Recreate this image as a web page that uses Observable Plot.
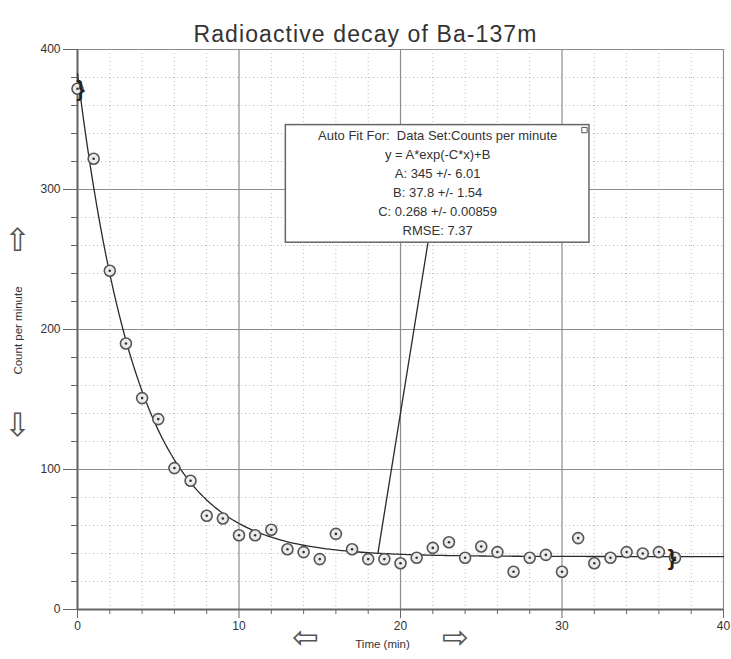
<!DOCTYPE html>
<html>
<head>
<meta charset="utf-8">
<script src="https://cdn.jsdelivr.net/npm/d3@7"></script>
<script src="https://cdn.jsdelivr.net/npm/@observablehq/plot@0.6"></script>
<style>
  html, body { margin: 0; padding: 0; background: white; }
</style>
</head>
<body>
<div id="chart"></div>
<script>
// ---- data ----
const times  = [0,1,2,3,4,5,6,7,8,9,10,11,12,13,14,15,16,17,18,19,20,21,22,23,24,25,26,27,28,29,30,31,32,33,34,35,36,37];
const counts = [372,322,242,190,151,136,101,92,67,65,53,53,57,43,41,36,54,43,36,36,33,37,44,48,37,45,41,27,37,39,27,51,33,37,41,40,41,37];

// Auto-fit parameters printed in the chart
const fitA = 345, fitB = 37.8, fitC = 0.268;
const boxLines = [
  "Auto Fit For:  Data Set:Counts per minute",
  "y = A*exp(-C*x)+B",
  "A: 345 +/- 6.01",
  "B: 37.8 +/- 1.54",
  "C: 0.268 +/- 0.00859",
  "RMSE: 7.37"
];

const xMajor = [0, 10, 20, 30, 40];
const xMinor = [2,4,6,8,12,14,16,18,22,24,26,28,32,34,36,38];
const yMajor = [0, 100, 200, 300, 400];
const yMinor = [20,40,60,80,120,140,160,180,220,240,260,280,320,340,360,380];

const title = "Radioactive decay of Ba-137m";
const xLabel = "Time (min)";
const yLabel = "Count per minute";

// ---- derived tables ----
const points = times.map((t, i) => ({t, c: counts[i]}));
const fit = x => fitA * Math.exp(-fitC * x) + fitB;
const curve = d3.range(0, 40.001, 0.2).map(x => ({x, y: fit(x)}));
const box = {x1: 12.9, x2: 31.7, y1: 262, y2: 346};
const leader = [{x1: 21.7, y1: box.y1, x2: 18.6, y2: fit(18.6)}];

const gridMajor = "#8c8c8c";
const ink = "#333";
const arrowStyle = {fontSize: 32, fontFamily: "DejaVu Sans", fill: "#555", textAnchor: "middle"};

const chart = Plot.plot({
  width: 731,
  height: 659,
  marginLeft: 77,
  marginRight: 8,
  marginTop: 49,
  marginBottom: 50,
  x: {domain: [0, 40]},
  y: {domain: [0, 400]},
  style: {fontFamily: "Liberation Sans, Arial, sans-serif", fontSize: "12px", color: ink, background: "white"},
  marks: [
    // minor dotted grid
    Plot.ruleX(xMinor, {stroke: "#888", strokeOpacity: 0.6, strokeDasharray: "1,3"}),
    Plot.ruleY(yMinor, {stroke: "#888", strokeOpacity: 0.6, strokeDasharray: "1,3"}),
    // major grid
    Plot.ruleX(xMajor, {stroke: gridMajor, strokeWidth: 1.2}),
    Plot.ruleY(yMajor, {stroke: gridMajor, strokeWidth: 1.2}),
    // axis lines
    Plot.ruleY([0], {stroke: "#666", strokeWidth: 2}),
    Plot.ruleX([0], {stroke: "#666", strokeWidth: 2}),
    // axes
    Plot.axisX({ticks: xMajor, tickSize: 9, tickPadding: 3, stroke: "#666", fill: ink, fontSize: 12}),
    Plot.axisX({ticks: xMinor, tickSize: 5, tickFormat: () => "", stroke: "#666"}),
    Plot.axisY({ticks: yMajor, tickSize: 14, tickPadding: 3, stroke: "#666", fill: ink, fontSize: 12}),
    Plot.axisY({ticks: yMinor, tickSize: 6, tickFormat: () => "", stroke: "#666"}),
    // fit curve
    Plot.line(curve, {x: "x", y: "y", stroke: "#2a2a2a", strokeWidth: 1.3}),
    // leader line from the annotation box to the curve
    Plot.link(leader, {x1: "x1", y1: "y1", x2: "x2", y2: "y2", stroke: "#2a2a2a", strokeWidth: 1.3}),
    // data points: ring with a centre dot
    Plot.dot(points, {x: "t", y: "c", r: 5.5, fill: "#ececec", stroke: "#555", strokeWidth: 1.6}),
    Plot.dot(points, {x: "t", y: "c", r: 1.3, fill: "#333", stroke: "none"}),
    // selection brackets
    Plot.text([points[0]], {x: "t", y: "c", text: () => "}", dx: 3, fontSize: 22, fontWeight: "bold", fill: "#222"}),
    Plot.text([points[points.length - 1]], {x: "t", y: "c", text: () => "}", dx: -3, fontSize: 22, fontWeight: "bold", fill: "#222"}),
    // annotation box
    Plot.rect([box], {x1: "x1", x2: "x2", y1: "y1", y2: "y2", fill: "white", stroke: "#666", strokeWidth: 1.5}),
    Plot.dot([box], {x: "x2", y: "y2", symbol: "square", r: 3, dx: -5, dy: 5, fill: "white", stroke: "#555", strokeWidth: 1}),
    Plot.text([boxLines.join("\n")], {x: (box.x1 + box.x2) / 2, y: box.y2, lineAnchor: "top", dy: 2, lineHeight: 1.45, fontSize: 13, fill: "#333"}),
    // title and axis labels
    Plot.text([title], {frameAnchor: "top", dx: -35, dy: -24, fontSize: 23, fill: "#333", className: "chart-title"}),
    Plot.text([xLabel], {frameAnchor: "bottom", dx: -18, dy: 38, fontSize: 11.5, fill: "#333", textAnchor: "middle"}),
    Plot.text(["\u21E6"], {frameAnchor: "bottom", dx: -95, dy: 38, ...arrowStyle}),
    Plot.text(["\u21E8"], {frameAnchor: "bottom", dx: 55, dy: 38, ...arrowStyle}),
    Plot.text([yLabel], {frameAnchor: "left", dx: -59, dy: 1, rotate: -90, fontSize: 11.5, fill: "#333", textAnchor: "middle"}),
    Plot.text(["\u21E7"], {frameAnchor: "left", dx: -60, dy: -89, ...arrowStyle}),
    Plot.text(["\u21E9"], {frameAnchor: "left", dx: -60, dy: 96, ...arrowStyle})
  ]
});

d3.select(chart).selectAll(".chart-title text").style("letter-spacing", "1.1px");
document.getElementById("chart").appendChild(chart);
</script>
</body>
</html>
